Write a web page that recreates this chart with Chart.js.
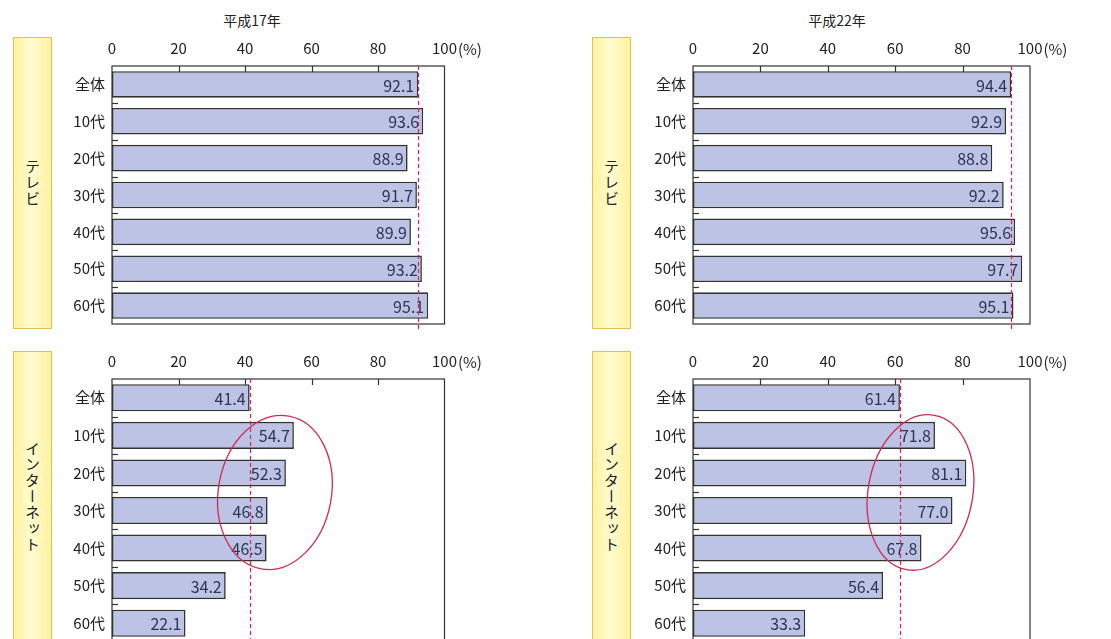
<!DOCTYPE html>
<html><head><meta charset="utf-8">
<script src="https://cdn.jsdelivr.net/npm/chart.js@4"></script>
<style>
html,body{margin:0;padding:0;background:#fff;width:1111px;height:639px;overflow:hidden;position:relative;font-family:"Noto Sans CJK JP","Noto Sans",sans-serif;}
.cv{position:absolute;}
.ttl{position:absolute;top:10px;width:200px;text-align:center;font-size:14px;color:#222;}
.side{position:absolute;width:37px;height:290px;border:1px solid #e3bd55;background:linear-gradient(90deg,#fff2a0 0%,#fffbcf 45%,#fff2a0 100%);display:flex;align-items:center;justify-content:center;}
.side span{writing-mode:vertical-rl;font-size:15px;color:#222;letter-spacing:1px;}
</style></head>
<body>
<div class="ttl" id="t0" style="left:152px"></div>
<div class="ttl" id="t1" style="left:737px"></div>
<div class="side" style="left:13px;top:37px"><span id="s0"></span></div>
<div class="side" style="left:592px;top:37px"><span id="s1"></span></div>
<div class="side" style="left:13px;top:351px"><span id="s2"></span></div>
<div class="side" style="left:592px;top:351px"><span id="s3"></span></div>
<canvas class="cv" id="c0" style="left:0;top:0"></canvas>
<canvas class="cv" id="c1" style="left:560px;top:0"></canvas>
<canvas class="cv" id="c2" style="left:0;top:340px"></canvas>
<canvas class="cv" id="c3" style="left:560px;top:340px"></canvas>
<script>
const categories = ['全体','10代','20代','30代','40代','50代','60代'];
const tvH17 = [92.1, 93.6, 88.9, 91.7, 89.9, 93.2, 95.1];
const tvH22 = [94.4, 92.9, 88.8, 92.2, 95.6, 97.7, 95.1];
const netH17 = [41.4, 54.7, 52.3, 46.8, 46.5, 34.2, 22.1];
const netH22 = [61.4, 71.8, 81.1, 77.0, 67.8, 56.4, 33.3];
const xTicks = [0, 20, 40, 60, 80, 100];
const yearTitles = ['平成17年', '平成22年'];
const mediaLabels = ['テレビ', 'インターネット'];
// highlight ellipses (data coordinates: x value range, category index range)
const ellipseH17 = {xMin: 30.5, xMax: 67.5, yMin: 0.4, yMax: 4.64};
const ellipseH22 = {xMin: 50.5, xMax: 84.5, yMin: 0.38, yMax: 4.66};

document.getElementById('t0').textContent = yearTitles[0];
document.getElementById('t1').textContent = yearTitles[1];
document.getElementById('s0').textContent = mediaLabels[0];
document.getElementById('s1').textContent = mediaLabels[0];
document.getElementById('s2').textContent = mediaLabels[1];
document.getElementById('s3').textContent = mediaLabels[1];

const FONT = '"Noto Sans CJK JP","Noto Sans",sans-serif';

const deco = {
  id: 'deco',
  afterDatasetsDraw(chart, args, o) {
    const ctx = chart.ctx, a = chart.chartArea;
    const xs = chart.scales.x, ys = chart.scales.y;
    const data = chart.data.datasets[0].data;
    ctx.save();
    // value labels
    ctx.font = '16px ' + FONT;
    ctx.fillStyle = '#2e3452';
    ctx.textAlign = 'right';
    ctx.textBaseline = 'middle';
    data.forEach((v, i) => {
      ctx.fillText(v.toFixed(1), xs.getPixelForValue(v) - 4, ys.getPixelForValue(i) + 1);
    });
    // box
    ctx.strokeStyle = '#333';
    ctx.lineWidth = 1.2;
    ctx.strokeRect(a.left, a.top, a.right - a.left, a.bottom - a.top);
    // x ticks inside top
    xTicks.slice(1, -1).forEach(t => {
      const x = Math.round(xs.getPixelForValue(t)) + 0.5;
      ctx.beginPath(); ctx.moveTo(x, a.top); ctx.lineTo(x, a.top + 6); ctx.stroke();
    });
    // category boundary ticks at left
    for (let i = 1; i < data.length; i++) {
      const y = Math.round((ys.getPixelForValue(i - 1) + ys.getPixelForValue(i)) / 2) + 0.5;
      ctx.beginPath(); ctx.moveTo(a.left, y); ctx.lineTo(a.left + 6, y); ctx.stroke();
    }
    // dashed reference line at overall value
    const rx = Math.round(xs.getPixelForValue(data[0])) + 0.5;
    ctx.strokeStyle = '#d4245a';
    ctx.lineWidth = 1.2;
    ctx.setLineDash([4, 3]);
    ctx.beginPath(); ctx.moveTo(rx, a.top); ctx.lineTo(rx, a.bottom + 6); ctx.stroke();
    ctx.setLineDash([]);
    // ellipse
    if (o.ellipse) {
      const e = o.ellipse;
      const x1 = xs.getPixelForValue(e.xMin), x2 = xs.getPixelForValue(e.xMax);
      const y1 = ys.getPixelForValue(e.yMin), y2 = ys.getPixelForValue(e.yMax);
      ctx.strokeStyle = '#d42a52';
      ctx.lineWidth = 1.3;
      ctx.beginPath();
      ctx.ellipse((x1 + x2) / 2, (y1 + y2) / 2, (x2 - x1) / 2 - 5, (y2 - y1) / 2 - 2, 0.18, 0, Math.PI * 2);
      ctx.stroke();
    }
    // (%) suffix for 100
    ctx.font = '15px ' + FONT;
    ctx.fillStyle = '#222';
    ctx.textAlign = 'left';
    ctx.textBaseline = 'middle';
    const w100 = ctx.measureText('100').width;
    ctx.fillText('(%)', xs.getPixelForValue(100) + w100 / 2 + 1, a.top - 17);
    ctx.restore();
  }
};

function make(id, values, w, h, area, ellipse) {
  const cv = document.getElementById(id);
  cv.width = w; cv.height = h;
  cv.style.width = w + 'px'; cv.style.height = h + 'px';
  const YW = 60, XH = 30;
  return new Chart(cv, {
    type: 'bar',
    data: {
      labels: categories,
      datasets: [{
        data: values,
        backgroundColor: '#bcc3e5',
        borderColor: '#333',
        borderWidth: 1.6,
        borderSkipped: false,
        barPercentage: 0.72,
        categoryPercentage: 1
      }]
    },
    options: {
      indexAxis: 'y',
      responsive: false,
      animation: false,
      devicePixelRatio: 1,
      layout: { padding: { left: area.left - YW, top: area.top - XH, right: w - area.right, bottom: h - area.bottom } },
      plugins: { legend: { display: false }, tooltip: { enabled: false }, deco: { ellipse } },
      scales: {
        x: {
          position: 'top', min: 0, max: 100,
          afterBuildTicks: s => { s.ticks = xTicks.map(v => ({ value: v })); },
          afterFit: s => { s.height = XH; },
          grid: { display: false, drawTicks: false },
          border: { display: false },
          ticks: { color: '#222', font: { size: 15, family: FONT }, padding: 9, maxRotation: 0, autoSkip: false }
        },
        y: {
          afterFit: s => { s.width = YW; },
          grid: { display: false, drawTicks: false },
          border: { display: false },
          ticks: { color: '#222', font: { size: 15, family: FONT }, padding: 7 }
        }
      }
    },
    plugins: [deco]
  });
}

make('c0', tvH17, 560, 340, { left: 112, right: 444.5, top: 66, bottom: 329 }, null);
make('c1', tvH22, 551, 340, { left: 133, right: 470, top: 66, bottom: 329 }, null);
make('c2', netH17, 560, 320, { left: 112, right: 444.5, top: 39, bottom: 302 }, ellipseH17);
make('c3', netH22, 551, 320, { left: 133, right: 470, top: 39, bottom: 302 }, ellipseH22);
</script>
</body></html>
